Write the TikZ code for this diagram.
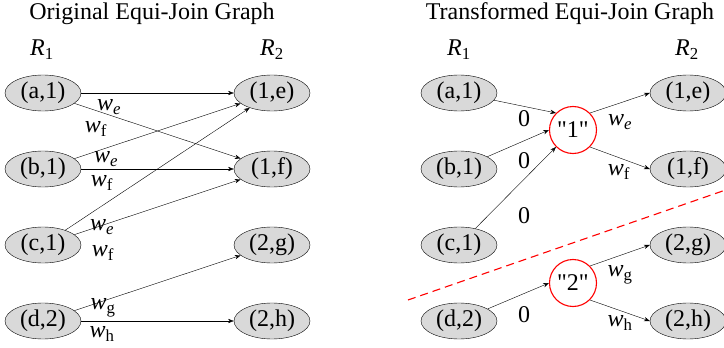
\documentclass[tikz,border=0pt]{standalone}
\usepackage{fontspec}
\setmainfont{Liberation Serif}[Ligatures=TeXOff]
\usetikzlibrary{arrows, positioning, arrows.meta, shapes}

\newcommand{\wlab}[1]{\textit{w}\textsubscript{#1}}
\newcommand{\rel}[1]{\textit{R}\textsubscript{#1}}

\begin{document}
\begin{tikzpicture}[x=1pt, y=-1pt, node distance=76pt,
    every node/.style={font=\fontsize{24}{28}\selectfont},
    tuple/.style={draw, ellipse, fill=gray!30, minimum width=76pt, minimum height=36pt, inner sep=0pt},
    key/.style={draw=red, circle, fill=white, line width=1.1pt, minimum size=47pt, inner sep=0pt}]

    \useasboundingbox (0,0) rectangle (724,348);

    %% original
    % Titles
    \node (otitle) at (152,14) {Original Equi-Join Graph};
    \node (or1) at (42,50) {\rel{1}};
    \node (or2) at (272,50) {\rel{2}};

    % Nodes
    \node[tuple] (oa) at (43,93) {(a,1)};
    \node[tuple, below of=oa] (ob) {(b,1)};
    \node[tuple, below of=ob] (oc) {(c,1)};
    \node[tuple, below of=oc] (od) {(d,2)};
    \node[tuple] (oe) at (272,93) {(1,e)};
    \node[tuple, below of=oe] (of) {(1,f)};
    \node[tuple, below of=of] (og) {(2,g)};
    \node[tuple, below of=og] (oh) {(2,h)};

    % Connections
    \draw [arrows = {-Stealth[scale=1.2]}] (oa) -- (oe);
    \draw [arrows = {-Stealth[scale=1.2]}] (oa) -- (of);
    \draw [arrows = {-Stealth[scale=1.2]}] (ob) -- (oe);
    \draw [arrows = {-Stealth[scale=1.2]}] (ob) -- (of);
    \draw [arrows = {-Stealth[scale=1.2]}] (oc) -- (oe);
    \draw [arrows = {-Stealth[scale=1.2]}] (oc) -- (of);
    \draw [arrows = {-Stealth[scale=1.2]}] (od) -- (og);
    \draw [arrows = {-Stealth[scale=1.2]}] (od) -- (oh);

    % Weights
    \node at (109,107) {\wlab{\textit{e}}};
    \node at (96,129) {\wlab{f}};
    \node at (106,159) {\wlab{\textit{e}}};
    \node at (102,183) {\wlab{f}};
    \node at (102,227) {\wlab{\textit{e}}};
    \node at (103,253) {\wlab{f}};
    \node at (103,308) {\wlab{g}};
    \node at (102,334) {\wlab{h}};

    %% transformed
    % Titles
    \node (ttitle) at (570,14) {Transformed Equi-Join Graph};
    \node (tr1) at (459,50) {\rel{1}};
    \node (tr2) at (687,50) {\rel{2}};

    % Separator
    \coordinate (cutl) at (408,300);
    \coordinate (cutr) at (740,185);
    \draw [red, line width=1.1pt, dash pattern=on 8pt off 5pt] (cutl) -- (cutr);

    % Nodes
    \node[tuple] (ta) at (459,93) {(a,1)};
    \node[tuple, below of=ta] (tb) {(b,1)};
    \node[tuple, below of=tb] (tc) {(c,1)};
    \node[tuple, below of=tc] (td) {(d,2)};
    \node[tuple] (te) at (688,93) {(1,e)};
    \node[tuple, below of=te] (tf) {(1,f)};
    \node[tuple, below of=tf] (tg) {(2,g)};
    \node[tuple, below of=tg] (th) {(2,h)};
    \node[key] (k1) at (573,130) {"1"};
    \node[key] (k2) at (573,283) {"2"};

    % Connections
    \draw [arrows = {-Stealth[scale=1.2]}] (ta) -- (k1.north west);
    \draw [arrows = {-Stealth[scale=1.2]}] (tb) -- (k1.west);
    \draw [arrows = {-Stealth[scale=1.2]}] (tc) -- (k1.south west);
    \draw [arrows = {-Stealth[scale=1.2]}] (k1.north east) -- (te.west);
    \draw [arrows = {-Stealth[scale=1.2]}] (k1.south east) -- (tf.west);
    \draw [arrows = {-Stealth[scale=1.2]}] (td) -- (k2.west);
    \draw [arrows = {-Stealth[scale=1.2]}] (k2.north east) -- (tg.west);
    \draw [arrows = {-Stealth[scale=1.2]}] (k2.south east) -- (th.west);

    % Weights
    \node at (524,119) {0};
    \node at (524,161) {0};
    \node at (524,216) {0};
    \node at (524,315) {0};
    \node at (620,122) {\wlab{\textit{e}}};
    \node at (619,172) {\wlab{f}};
    \node at (620,275) {\wlab{g}};
    \node at (620,323) {\wlab{h}};
\end{tikzpicture}
\end{document}
